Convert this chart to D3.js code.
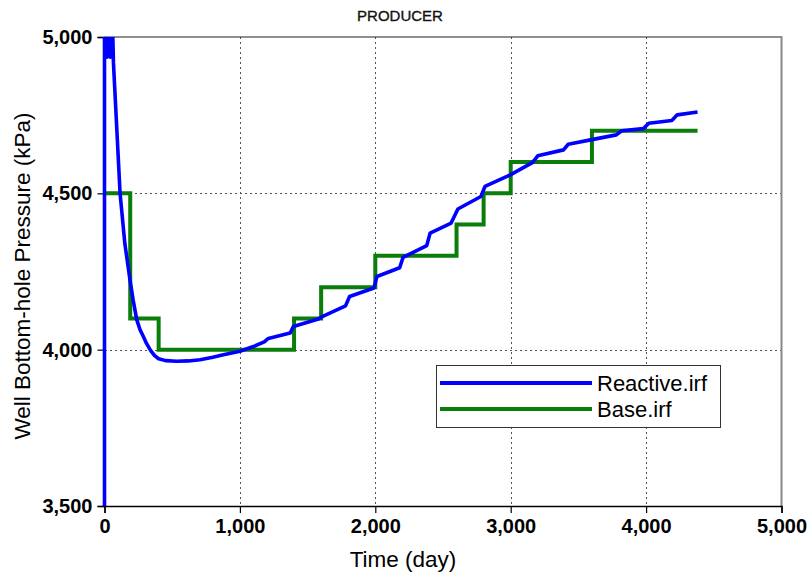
<!DOCTYPE html>
<html>
<head>
<meta charset="utf-8">
<script src="https://cdn.jsdelivr.net/npm/d3@7"></script>
<style>
  html, body { margin: 0; padding: 0; background: #fff; }
  svg { display: block; font-family: "Liberation Sans", Arial, sans-serif; }
</style>
</head>
<body>
<svg id="chart" width="812" height="578"></svg>
<script>
// Well bottom-hole pressure for the producer, two simulation runs
const chartTitle = "PRODUCER";
const xTicks = [0, 1000, 2000, 3000, 4000, 5000];
const yTicks = [3500, 4000, 4500, 5000];
const seriesNames = ["Reactive.irf", "Base.irf"];

// Reactive run: time (day)
const reactiveDays = [
  0, 0, 6, 12, 18, 24, 30, 36, 42, 48, 54, 60, 66,
  115, 150, 188, 211, 238, 262, 287, 310, 340, 370, 400, 450, 533, 620, 706, 800, 878, 1001,
  1100, 1180, 1210, 1371, 1395, 1580, 1600, 1780, 1810, 1990, 2012,
  2180, 2205, 2380, 2405, 2560, 2610, 2780, 2810, 2997, 3160, 3200,
  3390, 3425, 3590, 3780, 3820, 3980, 4020, 4190, 4230, 4380
];
// Reactive run: pressure (kPa)
const reactiveKPa = [
  3400, 5060, 4945, 5060, 4935, 5060, 4940, 5060, 4935, 5060, 4935, 5030, 4918,
  4500, 4340, 4224, 4160, 4096, 4064, 4042, 4020, 3998, 3981, 3971, 3965, 3963, 3964, 3968, 3976, 3984, 3995,
  4010, 4025, 4036, 4053, 4074, 4098, 4104, 4140, 4170, 4197, 4234,
  4262, 4295, 4333, 4373, 4405, 4450, 4490, 4522, 4559, 4598, 4620,
  4639, 4657, 4671, 4687, 4700, 4707, 4724, 4733, 4751, 4760
];

// Base run: step changes of the pressure constraint
const baseDays = [0, 190, 400, 1400, 1600, 2000, 2600, 2800, 3000, 3600, 4380];
const baseKPa  = [4500, 4100, 4000, 4100, 4200, 4300, 4400, 4500, 4600, 4700, 4700];

const colors = ["#0000ff", "#0a7d0a"];

const svg = d3.select("#chart");
const plotL = 104.5, plotR = 781.5, plotT = 37, plotB = 506;

const x = d3.scaleLinear().domain([0, 5000]).range([plotL, plotR]);
const y = d3.scaleLinear().domain([3500, 5000]).range([plotB, plotT]);
const fmt = d3.format(",");

// dashed grid
const grid = svg.append("g").attr("stroke", "#555").attr("stroke-width", 1)
  .attr("stroke-dasharray", "2,3").attr("shape-rendering", "crispEdges");
grid.selectAll("line.v").data(xTicks.slice(1, -1)).join("line")
  .attr("x1", d => Math.round(x(d)) + 0.5).attr("x2", d => Math.round(x(d)) + 0.5)
  .attr("y1", plotT).attr("y2", plotB);
grid.selectAll("line.h").data(yTicks.slice(1, -1)).join("line")
  .attr("x1", plotL).attr("x2", plotR)
  .attr("y1", d => Math.round(y(d)) + 0.5).attr("y2", d => Math.round(y(d)) + 0.5);

// frame: top edge and right edge
svg.append("line").attr("x1", plotL).attr("x2", plotR).attr("y1", plotT).attr("y2", plotT)
  .attr("stroke", "#222").attr("stroke-width", 1.2);
svg.append("line").attr("x1", plotR).attr("x2", plotR).attr("y1", plotT - 1).attr("y2", plotB)
  .attr("stroke", "#888").attr("stroke-width", 2);

// axes
const xAxis = svg.append("g").attr("transform", `translate(0,${plotB})`)
  .call(d3.axisBottom(x).tickValues(xTicks).tickFormat(fmt).tickSize(7).tickPadding(6));
const yAxis = svg.append("g").attr("transform", `translate(${plotL},0)`)
  .call(d3.axisLeft(y).tickValues(yTicks).tickFormat(fmt).tickSize(7).tickPadding(5));
[xAxis, yAxis].forEach(a => {
  a.select(".domain").attr("stroke", "#000").attr("stroke-width", 1.5);
  a.selectAll(".tick line").attr("stroke", "#000").attr("stroke-width", 1.2);
  a.selectAll(".tick text").attr("fill", "#000").attr("font-size", 20)
    .attr("font-weight", "bold").attr("font-family", "Liberation Sans, Arial, sans-serif");
});
xAxis.selectAll(".tick text").attr("dy", "0.72em");

// series, clipped to the plot area
svg.append("clipPath").attr("id", "plot-clip").append("rect")
  .attr("x", plotL - 4).attr("y", plotT).attr("width", plotR - plotL + 4).attr("height", plotB - plotT);
const plot = svg.append("g").attr("clip-path", "url(#plot-clip)");

const reactive = reactiveDays.map((d, i) => [d, reactiveKPa[i]]);
const base = baseDays.map((d, i) => [d, baseKPa[i]]);

plot.append("path").datum(base)
  .attr("fill", "none").attr("stroke", colors[1]).attr("stroke-width", 4)
  .attr("d", d3.line().x(d => x(d[0])).y(d => y(d[1])).curve(d3.curveStepAfter));
plot.append("path").datum(reactive)
  .attr("fill", "none").attr("stroke", colors[0]).attr("stroke-width", 3.6)
  .attr("stroke-linejoin", "round")
  .attr("d", d3.line().x(d => x(d[0])).y(d => y(d[1])));

// titles
svg.append("text").attr("x", 400).attr("y", 21).attr("text-anchor", "middle")
  .attr("font-size", 15).attr("fill", "#111").attr("stroke", "#111").attr("stroke-width", 0.35)
  .text(chartTitle);
svg.append("text").attr("x", 403).attr("y", 567).attr("text-anchor", "middle")
  .attr("font-size", 22.5).attr("fill", "#000").text("Time (day)");
svg.append("text").attr("transform", "translate(30,276) rotate(-90)").attr("text-anchor", "middle")
  .attr("font-size", 22.5).attr("fill", "#000").text("Well Bottom-hole Pressure (kPa)");

// legend
const lg = svg.append("g");
lg.append("rect").attr("x", 436.5).attr("y", 365.5).attr("width", 284).attr("height", 62)
  .attr("fill", "#fff").attr("stroke", "#333").attr("stroke-width", 1);
seriesNames.forEach((name, i) => {
  const ly = 383 + i * 26;
  lg.append("line").attr("x1", 440).attr("x2", 592).attr("y1", ly).attr("y2", ly)
    .attr("stroke", colors[i]).attr("stroke-width", 4);
  lg.append("text").attr("x", 597).attr("y", ly + 8).attr("font-size", 22)
    .attr("fill", "#000").text(name);
});
</script>
</body>
</html>
